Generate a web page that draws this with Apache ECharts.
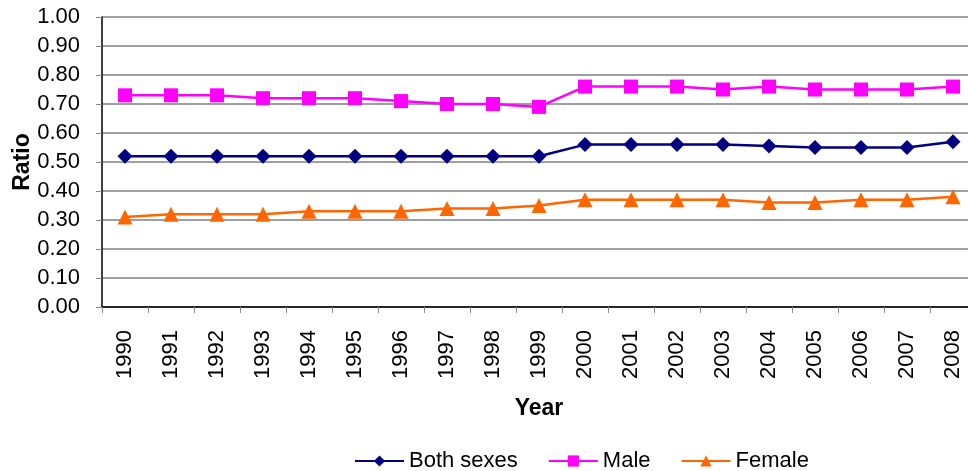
<!DOCTYPE html>
<html><head><meta charset="utf-8">
<script src="https://cdn.jsdelivr.net/npm/echarts@6/dist/echarts.min.js"></script>
<style>html,body{margin:0;padding:0;background:#fff}#c{width:968px;height:471px}</style>
</head><body><div id="c"></div>
<script>
const years = ['1990','1991','1992','1993','1994','1995','1996','1997','1998','1999','2000','2001','2002','2003','2004','2005','2006','2007','2008'];
const bothSexes = [0.52,0.52,0.52,0.52,0.52,0.52,0.52,0.52,0.52,0.52,0.56,0.56,0.56,0.56,0.555,0.55,0.55,0.55,0.57];
const male = [0.73,0.73,0.73,0.72,0.72,0.72,0.71,0.70,0.70,0.69,0.76,0.76,0.76,0.75,0.76,0.75,0.75,0.75,0.76];
const female = [0.31,0.32,0.32,0.32,0.33,0.33,0.33,0.34,0.34,0.35,0.37,0.37,0.37,0.37,0.36,0.36,0.37,0.37,0.38];
const FONT = '"Liberation Sans", Arial, sans-serif';
const chart = echarts.init(document.getElementById('c'));
function mk(name, data, color, symbol, size) {
  return { name, type: 'line', data, color, symbol, symbolSize: size,
    lineStyle: { color, width: 2.5 }, itemStyle: { color }, animation: false };
}
chart.setOption({
  animation: false,
  textStyle: { fontFamily: FONT },
  grid: { left: 102, width: 874, top: 17, height: 290, containLabel: false, outerBoundsMode: 'none' },
  legend: {
    left: 349, top: 445, itemWidth: 49, itemHeight: 14, itemGap: 30,
    textStyle: { fontSize: 22, color: '#000', fontFamily: FONT },
    data: ['Both sexes', 'Male', 'Female']
  },
  xAxis: {
    type: 'category', data: years, boundaryGap: true,
    name: 'Year', nameLocation: 'middle', nameGap: 90,
    nameTextStyle: { fontSize: 23, fontWeight: 'bold', color: '#000', fontFamily: FONT },
    axisLine: { lineStyle: { color: '#000', width: 1.5 } },
    axisTick: { show: true, length: 6, alignWithLabel: false, lineStyle: { color: '#888' } },
    axisLabel: { rotate: 90, fontSize: 22, color: '#000', margin: 23, fontFamily: FONT }
  },
  yAxis: {
    type: 'value', min: 0, max: 1, interval: 0.1,
    name: 'Ratio', nameLocation: 'middle', nameGap: 68, nameMoveOverlap: false,
    nameTextStyle: { fontSize: 23, fontWeight: 'bold', color: '#000', fontFamily: FONT },
    axisLine: { show: true, lineStyle: { color: '#000', width: 1.5 } },
    axisTick: { show: true, length: 6, lineStyle: { color: '#888' } },
    splitLine: { lineStyle: { color: '#7f7f7f', width: 1.5 } },
    axisLabel: { fontSize: 22, color: '#000', margin: 22, fontFamily: FONT,
      formatter: v => v.toFixed(2) }
  },
  series: [
    mk('Both sexes', bothSexes, '#000080', 'diamond', 15),
    mk('Male', male, '#FF00FF', 'rect', 14),
    mk('Female', female, '#FF6600', 'triangle', 15)
  ]
});
</script></body></html>
